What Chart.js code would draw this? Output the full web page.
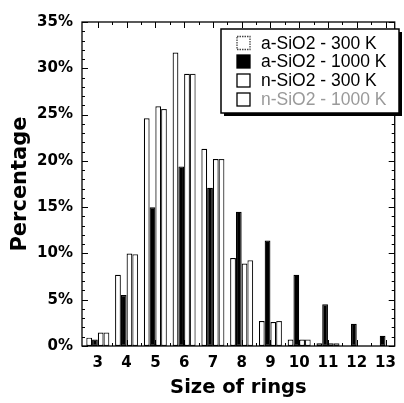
<!DOCTYPE html>
<html>
<head>
<meta charset="utf-8">
<script src="https://cdn.jsdelivr.net/npm/chart.js@4.4.1/dist/chart.umd.min.js"></script>
<style>
  html, body { margin: 0; padding: 0; background: #fff; }
  canvas { display: block; }
</style>
</head>
<body>
<canvas id="ringChart" width="404" height="403"></canvas>
<script>
const ringSizes = [3, 4, 5, 6, 7, 8, 9, 10, 11, 12, 13];
const seriesNames = ['a-SiO2 - 300 K', 'a-SiO2 - 1000 K', 'n-SiO2 - 300 K', 'n-SiO2 - 1000 K'];
const aSiO2_300 = [0.9, 7.7, 24.6, 31.7, 21.3, 9.5, 2.7, 0.7, 0.3, 0, 0];
const aSiO2_1000 = [0.7, 5.5, 15.0, 19.4, 17.1, 14.5, 11.4, 7.7, 4.5, 2.4, 1.1];
const nSiO2_300 = [1.45, 10.0, 25.9, 29.4, 20.2, 8.9, 2.6, 0.7, 0.3, 0, 0];
const nSiO2_1000 = [1.45, 9.9, 25.6, 29.4, 20.2, 9.25, 2.7, 0.7, 0.3, 0, 0];
const yTicks = [0, 5, 10, 15, 20, 25, 30, 35];

const FONT = "'Liberation Sans', Arial, Helvetica, sans-serif";
const BOLD = "'DejaVu Sans', 'Liberation Sans', sans-serif";

// fill / outline per series, same order as seriesNames
const fills = ['#fff', '#000', '#fff', '#fff'];
const outlines = ['#000', '#000', '#000', '#222'];

function toPoints(values) {
    return ringSizes.map((r, i) => ({ x: r, y: values[i] }));
}

// box with inward ticks + the boxed legend in the upper right
const framePlugin = {
    id: 'frame',
    afterDatasetsDraw(chart) {
        const ctx = chart.ctx;
        const a = chart.chartArea;
        const x = chart.scales.x;
        const y = chart.scales.y;
        ctx.save();
        ctx.strokeStyle = '#000';
        ctx.lineWidth = 1.3;
        ctx.strokeRect(a.left, a.top, a.right - a.left, a.bottom - a.top);

        ctx.lineWidth = 1;
        ctx.beginPath();
        for (let v = 0; v <= 35; v++) {
            const py = Math.round(y.getPixelForValue(v)) + 0.5;
            const len = v % 5 === 0 ? 6 : 3;
            ctx.moveTo(a.left, py); ctx.lineTo(a.left + len, py);
            ctx.moveTo(a.right, py); ctx.lineTo(a.right - len, py);
        }
        for (let v = 3; v <= 13; v += 0.5) {
            const px = Math.round(x.getPixelForValue(v)) + 0.5;
            const len = Number.isInteger(v) ? 6 : 3;
            ctx.moveTo(px, a.top); ctx.lineTo(px, a.top + len);
            ctx.moveTo(px, a.bottom); ctx.lineTo(px, a.bottom - len);
        }
        ctx.stroke();

        // legend
        const lx = 221, ly = 29, lw = 178, lh = 84;
        ctx.fillStyle = '#000';
        ctx.fillRect(lx + 3, ly + 3, lw, lh);
        ctx.fillStyle = '#fff';
        ctx.fillRect(lx, ly, lw, lh);
        ctx.lineWidth = 1.5;
        ctx.strokeRect(lx, ly, lw, lh);

        ctx.font = '17.5px ' + FONT;
        ctx.textBaseline = 'middle';
        ctx.textAlign = 'left';
        const rows = [43, 61.5, 80.5, 99.5];
        seriesNames.forEach((name, i) => {
            const cy = rows[i];
            ctx.fillStyle = fills[i];
            ctx.fillRect(237, cy - 6.5, 13, 13);
            ctx.lineWidth = 1.3;
            ctx.strokeStyle = i === 0 ? '#444' : '#000';
            ctx.setLineDash(i === 0 ? [1.5, 1] : []);
            ctx.strokeRect(237, cy - 6.5, 13, 13);
            ctx.setLineDash([]);
            ctx.fillStyle = i === 3 ? '#9a9a9a' : '#000';
            ctx.fillText(name, 261, cy + 1);
        });
        ctx.restore();
    }
};

new Chart(document.getElementById('ringChart').getContext('2d'), {
    type: 'bar',
    data: {
        datasets: [aSiO2_300, aSiO2_1000, nSiO2_300, nSiO2_1000].map((vals, i) => ({
            label: seriesNames[i],
            data: toPoints(vals),
            backgroundColor: fills[i],
            borderColor: outlines[i],
            borderWidth: 1.2,
            borderSkipped: false,
            categoryPercentage: 0.8,
            barPercentage: 1
        }))
    },
    options: {
        responsive: false,
        animation: false,
        layout: { padding: { top: 22, right: 2, left: 0, bottom: 0 } },
        plugins: {
            legend: { display: false },
            tooltip: { enabled: false }
        },
        scales: {
            x: {
                type: 'linear',
                offset: false,
                min: 2.45,
                max: 13.32,
                grid: { display: false, drawTicks: false },
                border: { display: false },
                afterBuildTicks: s => { s.ticks = ringSizes.map(v => ({ value: v })); },
                afterFit: s => { s.height = 57; },
                ticks: {
                    color: '#000',
                    font: { family: BOLD, size: 15, weight: 'bold' },
                    padding: 8,
                    maxRotation: 0,
                    autoSkip: false
                },
                title: {
                    display: true,
                    text: 'Size of rings',
                    color: '#000',
                    font: { family: BOLD, size: 19.5, weight: 'bold' },
                    padding: { top: 0, bottom: 3 }
                }
            },
            y: {
                min: 0,
                max: 35,
                grid: { display: false, drawTicks: false },
                border: { display: false },
                afterBuildTicks: s => { s.ticks = yTicks.map(v => ({ value: v })); },
                afterFit: s => { s.width = 82; },
                ticks: {
                    color: '#000',
                    font: { family: BOLD, size: 15, weight: 'bold' },
                    padding: 9,
                    callback: v => v + '%'
                },
                title: {
                    display: true,
                    text: 'Percentage',
                    color: '#000',
                    font: { family: BOLD, size: 21, weight: 'bold' },
                    padding: { top: 8, bottom: 0 }
                }
            }
        }
    },
    plugins: [framePlugin]
});
</script>
</body>
</html>
